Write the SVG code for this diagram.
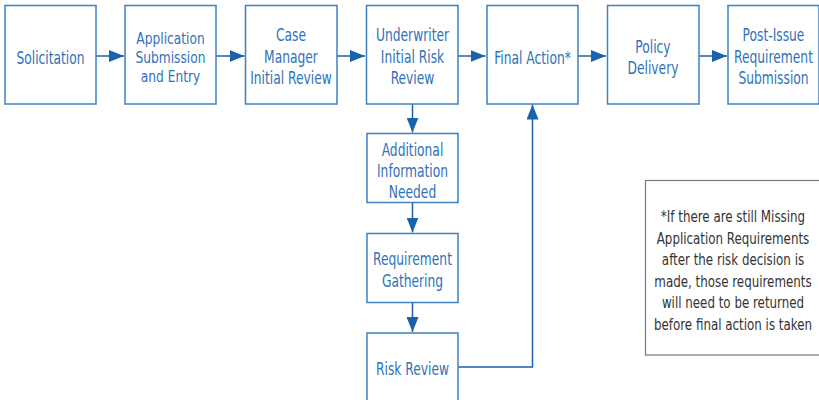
<svg xmlns="http://www.w3.org/2000/svg" width="819" height="400" viewBox="0 0 819 400">
<defs>
<style>
.box{fill:#fff;stroke:#3f80c2;stroke-width:1.5}
.note{fill:#fff;stroke:#7a7a7a;stroke-width:1.2}
.t{font-family:"DejaVu Sans Condensed","Liberation Sans",sans-serif;font-stretch:condensed;font-size:17.5px;fill:#2f72b8;text-anchor:middle}
.s{font-size:16px}
.n{font-family:"DejaVu Sans Condensed","Liberation Sans",sans-serif;font-stretch:condensed;font-size:16.5px;fill:#333;text-anchor:middle}
.c{fill:none;stroke:#1b62ab;stroke-width:1.5}
</style>
<marker id="ah" markerWidth="16" markerHeight="12" refX="15" refY="6" orient="auto" markerUnits="userSpaceOnUse">
<path d="M0,0 L15,6 L0,12 Z" fill="#1b62ab"/>
</marker>
</defs>
<rect width="819" height="400" fill="#fff"/>
<g id="connectors">
<line class="c" x1="96" y1="56" x2="124" y2="56" marker-end="url(#ah)"/>
<line class="c" x1="216" y1="56" x2="244.5" y2="56" marker-end="url(#ah)"/>
<line class="c" x1="337" y1="56" x2="365" y2="56" marker-end="url(#ah)"/>
<line class="c" x1="458" y1="56" x2="485.5" y2="56" marker-end="url(#ah)"/>
<line class="c" x1="578" y1="56" x2="606" y2="56" marker-end="url(#ah)"/>
<line class="c" x1="699" y1="56" x2="727" y2="56" marker-end="url(#ah)"/>
<line class="c" x1="412.5" y1="104" x2="412.5" y2="132.5" marker-end="url(#ah)"/>
<line class="c" x1="412.5" y1="203" x2="412.5" y2="232.5" marker-end="url(#ah)"/>
<line class="c" x1="412.5" y1="303" x2="412.5" y2="332" marker-end="url(#ah)"/>
<polyline class="c" points="458,367 532.5,367 532.5,104.5" marker-end="url(#ah)"/>
</g>
<g id="solicitation"><rect class="box" x="5" y="5.5" width="91" height="98.5"/><text class="t" transform="translate(50.5,63.5) scale(0.78,1)">Solicitation</text></g>
<g id="application"><rect class="box" x="125" y="5.5" width="91" height="98.5"/><text class="t s" transform="translate(170.5,44) scale(0.85,1)">Application</text><text class="t s" transform="translate(170.5,63) scale(0.85,1)">Submission</text><text class="t s" transform="translate(170.5,82) scale(0.85,1)">and Entry</text></g>
<g id="casemanager"><rect class="box" x="245.5" y="5.5" width="91.5" height="98.5"/><text class="t" transform="translate(291,41) scale(0.78,1)">Case</text><text class="t" transform="translate(291,62.5) scale(0.78,1)">Manager</text><text class="t" transform="translate(291,84) scale(0.78,1)">Initial Review</text></g>
<g id="underwriter"><rect class="box" x="366.5" y="5.5" width="91.5" height="98.5"/><text class="t" transform="translate(412.5,41) scale(0.78,1)">Underwriter</text><text class="t" transform="translate(412.5,62.5) scale(0.78,1)">Initial Risk</text><text class="t" transform="translate(412.5,84) scale(0.78,1)">Review</text></g>
<g id="finalaction"><rect class="box" x="487" y="5.5" width="91" height="98.5"/><text class="t" transform="translate(532.5,63.5) scale(0.78,1)">Final Action*</text></g>
<g id="policydelivery"><rect class="box" x="607.5" y="5.5" width="91.5" height="98.5"/><text class="t" transform="translate(653,53) scale(0.78,1)">Policy</text><text class="t" transform="translate(653,74) scale(0.78,1)">Delivery</text></g>
<g id="postissue"><rect class="box" x="728" y="5.5" width="91" height="98.5"/><text class="t" transform="translate(773.5,41) scale(0.78,1)">Post-Issue</text><text class="t" transform="translate(773.5,62.5) scale(0.78,1)">Requirement</text><text class="t" transform="translate(773.5,84) scale(0.78,1)">Submission</text></g>
<g id="additional"><rect class="box" x="367" y="133.5" width="91" height="69"/><text class="t" transform="translate(412.5,156) scale(0.78,1)">Additional</text><text class="t" transform="translate(412.5,177) scale(0.78,1)">Information</text><text class="t" transform="translate(412.5,197.5) scale(0.78,1)">Needed</text></g>
<g id="gathering"><rect class="box" x="367" y="233.5" width="91" height="69"/><text class="t" transform="translate(412.5,265) scale(0.78,1)">Requirement</text><text class="t" transform="translate(412.5,286.5) scale(0.78,1)">Gathering</text></g>
<g id="riskreview"><rect class="box" x="367" y="333" width="91" height="70"/><text class="t" transform="translate(412.5,375) scale(0.78,1)">Risk Review</text></g>
<g id="footnote"><rect class="note" x="645.5" y="180.5" width="176" height="174.5"/>
<text class="n" transform="translate(733,222) scale(0.8,1)">*If there are still Missing</text>
<text class="n" transform="translate(733,243.5) scale(0.8,1)">Application Requirements</text>
<text class="n" transform="translate(733,265) scale(0.8,1)">after the risk decision is</text>
<text class="n" transform="translate(733,286.5) scale(0.8,1)">made, those requirements</text>
<text class="n" transform="translate(733,308) scale(0.8,1)">will need to be returned</text>
<text class="n" transform="translate(733,329.5) scale(0.8,1)">before final action is taken</text>
</g>
</svg>
